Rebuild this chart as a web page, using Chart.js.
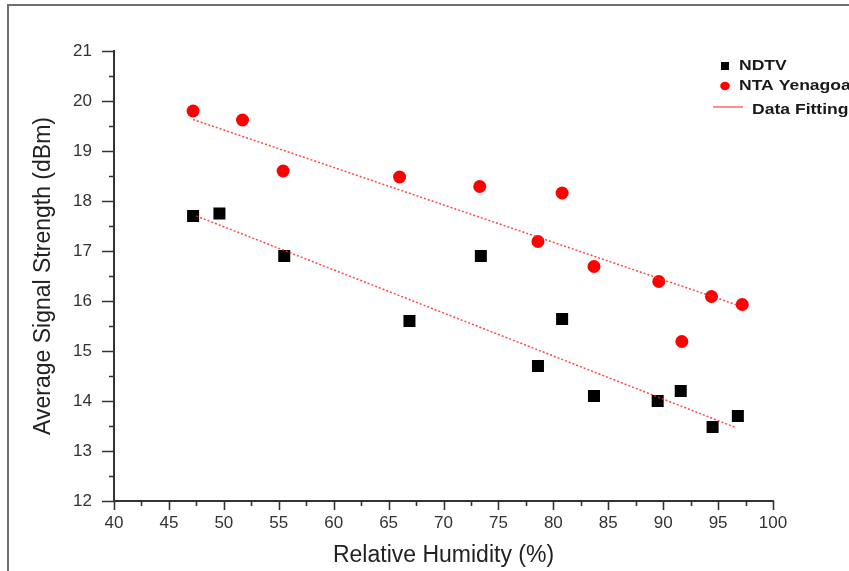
<!DOCTYPE html>
<html>
<head>
<meta charset="utf-8">
<title>Signal strength vs humidity</title>
<script src="https://cdn.jsdelivr.net/npm/chart.js@4.4.1/dist/chart.umd.min.js"></script>
<style>
  html, body { margin: 0; padding: 0; background: #fff; }
  #wrap { position: relative; width: 849px; height: 571px; }
</style>
</head>
<body>
<div id="wrap"><canvas id="chart"></canvas></div>
<script>
// readings taken off the figure
const humidityNdtv = [47.2, 49.6, 55.5, 66.9, 73.4, 78.6, 80.8, 83.7, 89.5, 91.6, 94.5, 96.8];
const signalNdtv   = [17.7, 17.75, 16.9, 15.6, 16.9, 14.7, 15.64, 14.1, 14.0, 14.2, 13.48, 13.7];

const humidityNta = [47.2, 51.7, 55.4, 66.0, 73.3, 78.6, 80.8, 83.7, 89.6, 91.7, 94.4, 97.2];
const signalNta   = [19.8, 19.62, 18.6, 18.48, 18.29, 17.19, 18.16, 16.69, 16.39, 15.19, 16.09, 15.93];

// end points of the two fitted lines
const fitNdtvX = [47.5, 96.6];
const fitNdtvY = [17.7, 13.47];
const fitNtaX  = [47.2, 97.0];
const fitNtaY  = [19.63, 15.9];

const xRange = [40, 100];
const yRange = [12, 21];

const FONT = '"Liberation Sans", Arial, sans-serif';
const toPoints = (xs, ys) => xs.map((x, i) => ({ x: x, y: ys[i] }));

// white page + the grey frame of the original figure
const framePlugin = {
  id: 'frame',
  beforeDraw(chart) {
    const c = chart.ctx;
    c.save();
    c.fillStyle = '#fff';
    c.fillRect(0, 0, chart.width, chart.height);
    c.strokeStyle = '#6e6e6e';
    c.lineWidth = 2;
    c.beginPath();
    c.moveTo(8, chart.height);
    c.lineTo(8, 5);
    c.lineTo(chart.width, 5);
    c.stroke();
    c.restore();
  }
};

// outward major / minor tick marks
const tickPlugin = {
  id: 'tickMarks',
  afterDraw(chart) {
    const c = chart.ctx;
    const xs = chart.scales.x;
    const ys = chart.scales.y;
    c.save();
    c.strokeStyle = '#333';
    c.lineWidth = 1.6;
    c.beginPath();
    for (let v = xRange[0]; v <= xRange[1]; v += 2.5) {
      const px = Math.round(xs.getPixelForValue(v)) + 0.5;
      const len = v % 5 === 0 ? 9 : 5;
      c.moveTo(px, ys.bottom);
      c.lineTo(px, ys.bottom + len);
    }
    for (let v = yRange[0]; v <= yRange[1]; v += 0.5) {
      const py = Math.round(ys.getPixelForValue(v)) + 0.5;
      const len = v % 1 === 0 ? 12 : 5;
      c.moveTo(xs.left, py);
      c.lineTo(xs.left - len, py);
    }
    c.stroke();
    c.restore();
  }
};

// legend in the top right corner, built from the dataset labels
const legendPlugin = {
  id: 'cornerLegend',
  afterDraw(chart) {
    const c = chart.ctx;
    const items = chart.data.datasets.filter(d => d.label);
    const rows = [66, 86, 108];
    const text = (s, x, y) => {
      // the source figure is a little stretched sideways
      c.save();
      c.translate(x, y);
      c.scale(1.17, 1);
      c.fillStyle = '#1a1a1a';
      c.fillText(s, 0, 0);
      c.restore();
    };
    c.save();
    c.font = 'bold 15px ' + FONT;
    c.textBaseline = 'middle';
    items.forEach((d, i) => {
      const y = rows[i];
      if (d.type === 'line') {
        c.strokeStyle = '#ff4040';
        c.lineWidth = 1.2;
        c.beginPath();
        c.moveTo(713, y - 1);
        c.lineTo(743, y - 1);
        c.stroke();
        text(d.label, 752, y + 2);
      } else {
        c.fillStyle = d.backgroundColor;
        if (d.pointStyle === 'rect') {
          c.fillRect(721, y - 4, 8, 8);
        } else {
          c.beginPath();
          c.ellipse(725, y, 4.8, 4.2, 0, 0, Math.PI * 2);
          c.fill();
        }
        text(d.label, 739, y);
      }
    });
    c.restore();
  }
};

const fitStyle = {
  type: 'line',
  showLine: true,
  borderColor: 'rgba(255, 40, 40, 0.85)',
  borderWidth: 1.5,
  borderDash: [2, 2],
  pointRadius: 0,
  fill: false,
  order: 0
};

const ctx = document.querySelector('#chart').getContext('2d');
const chart = new Chart(ctx, {
  type: 'scatter',
  data: {
    datasets: [
      {
        label: 'NDTV',
        data: toPoints(humidityNdtv, signalNdtv),
        pointStyle: 'rect',
        pointRadius: 8.5,
        backgroundColor: '#000',
        borderWidth: 0,
        order: 1
      },
      {
        label: 'NTA Yenagoa',
        data: toPoints(humidityNta, signalNta),
        pointStyle: 'circle',
        pointRadius: 6.5,
        backgroundColor: '#ff0000',
        borderWidth: 0,
        order: 1
      },
      Object.assign({ label: 'Data Fitting', data: toPoints(fitNtaX, fitNtaY) }, fitStyle),
      Object.assign({ label: '', data: toPoints(fitNdtvX, fitNdtvY) }, fitStyle)
    ]
  },
  options: {
    responsive: true,
    maintainAspectRatio: false,
    animation: false,
    layout: { padding: { top: 51, right: 76, left: 0, bottom: 0 } },
    plugins: {
      legend: { display: false },
      tooltip: { enabled: false }
    },
    scales: {
      x: {
        type: 'linear',
        min: xRange[0],
        max: xRange[1],
        afterFit: s => { s.height = 70; },
        grid: { display: false, drawTicks: false },
        border: { display: true, color: '#333', width: 2 },
        ticks: {
          stepSize: 5,
          padding: 12,
          color: '#333',
          font: { family: FONT, size: 17 }
        },
        title: {
          display: true,
          text: 'Relative Humidity (%)',
          color: '#222',
          font: { family: FONT, size: 23 },
          padding: { top: 0, bottom: 2 }
        }
      },
      y: {
        type: 'linear',
        min: yRange[0],
        max: yRange[1],
        afterFit: s => { s.width = 114; },
        grid: { display: false, drawTicks: false },
        border: { display: true, color: '#333', width: 2 },
        ticks: {
          stepSize: 1,
          padding: 22,
          color: '#333',
          font: { family: FONT, size: 17 }
        },
        title: {
          display: true,
          text: 'Average Signal Strength (dBm)',
          color: '#222',
          font: { family: FONT, size: 23 },
          padding: { top: 30, bottom: 0 }
        }
      }
    }
  },
  plugins: [framePlugin, tickPlugin, legendPlugin]
});
</script>
</body>
</html>
